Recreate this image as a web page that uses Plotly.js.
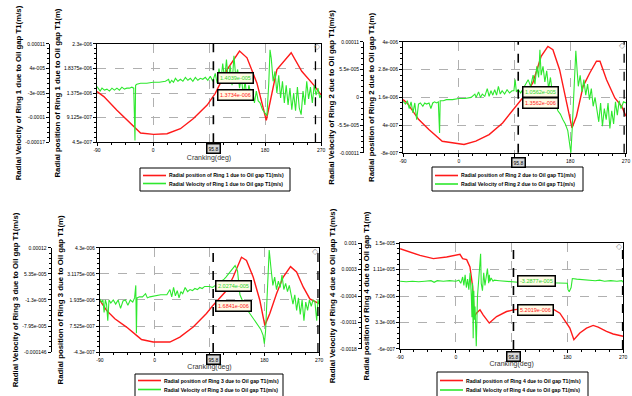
<!DOCTYPE html>
<html><head><meta charset="utf-8">
<script src="https://cdn.plot.ly/plotly-3.0.1.min.js"></script>
<style>html,body{margin:0;padding:0;background:#fff}#chart{width:632px;height:396px}</style>
</head><body><div id="chart"></div>
<script>
// ---------- Panel 1 (Ring 1) ----------
const xR1 = [-90,-79,-58,-28,-20,1,22.5,44,65,87,100,119,139,151,167,182,189,199,222,239,258,270];
const yR1 = [1.403e-6,1.308e-6,1.053e-6,7.03e-7,6.22e-7,5.96e-7,6.09e-7,7.03e-7,8.94e-7,1.149e-6,1.371e-6,1.817e-6,2.167e-6,2.039e-6,1.562e-6,8.63e-7,1.246e-6,1.817e-6,2.135e-6,1.786e-6,1.53e-6,1.34e-6];
const xG1 = [-90,-85,-82,-78,-74,-70,-66,-62,-58,-54,-50,-46,-42,-38,-34,-31,-30,-29,-28,-26,-20,-10,0,10,20,25,27,30,33,36,40,44,48,52,56,60,64,68,72,76,80,84,88,92,96,100,103,106,109,112,115,118,121,124,127,130,133,136,139,142,145,148,151,154,157,160,163,166,169,172,176,180,183,186,188,190,193,196,199,202,205,208,211,214,217,220,223,226,229,232,235,238,241,244,247,250,253,256,259,262,265,268,270];
const yG1 = [-1.12e-5,-2.44e-5,-1.6e-5,-2.16e-5,-1.88e-5,-2.44e-5,-1.6e-5,-2.16e-5,-1.6e-5,-2.16e-5,-1.32e-5,-1.88e-5,-1.6e-5,-1.6e-5,-1.32e-5,-1.6e-5,-8.6e-5,-1.65e-4,-0.76e-5,-0.48e-5,-0.2e-5,-0.2e-5,0.08e-5,0.08e-5,0.36e-5,0.92e-5,-0.2e-5,0.64e-5,0.08e-5,1.2e-5,0.36e-5,0.92e-5,0.36e-5,1.48e-5,0.64e-5,1.2e-5,0.36e-5,1.48e-5,0.64e-5,1.2e-5,0.92e-5,1.48e-5,0.64e-5,1.76e-5,0.36e-5,2.6e-5,-0.2e-5,4.0e-5,0.36e-5,5.4e-5,0.92e-5,6.52e-5,0.36e-5,4.84e-5,-0.76e-5,7.64e-5,1.48e-5,3.72e-5,-1.6e-5,1.48e-5,-3.56e-5,0.36e-5,-4.68e-5,-0.76e-5,-3.0e-5,-1.88e-5,-5.8e-5,-2.44e-5,-5.24e-5,-5.8e-5,-7.76e-5,-8.6e-5,-9.44e-5,-0.2e-5,9.32e-5,6.8e-5,0.36e-5,3.16e-5,-3.0e-5,2.04e-5,-4.4e-5,0.36e-5,-5.8e-5,-0.76e-5,-6.36e-5,-1.6e-5,-7.76e-5,-3.0e-5,-8.04e-5,-1.32e-5,-7.2e-5,-9.16e-5,-2.44e-5,-6.36e-5,0.36e-5,-4.68e-5,-1.32e-5,-5.8e-5,-0.76e-5,-3.56e-5,-1.6e-5,-4.4e-5,-3.56e-5];
const posTicks1 = [4.5e-7,9.125e-7,1.375e-6,1.8375e-6,2.3e-6];
const posLabels1 = ['4.5e-007','9.125e-007','1.375e-006','1.8375e-006','2.3e-006'];
const velTicks1 = [-1.7e-4,-1e-4,-3e-5,4e-5,1.1e-4];
const velLabels1 = ['-0.00017','-0.0001','-3e-005','4e-005','0.00011'];

// ---------- Panel 2 (Ring 2) ----------
const xR2 = [-90,-83.5,-64.6,-48.3,-26.7,-10.4,8.5,27.5,49,70.8,92.4,103,119.5,133,143.9,152,162.8,173.7,182.8,190,200.7,211.5,222.3,228,238.6,252,263,270];
const yR2 = [1.504e-6,1.36e-6,0.64e-6,0.208e-6,-0.296e-6,-0.368e-6,-0.44e-6,-0.296e-6,-0.008e-6,0.496e-6,1.216e-6,1.576e-6,2.224e-6,3.376e-6,3.808e-6,3.664e-6,2.8e-6,1.504e-6,0.28e-6,0.784e-6,2.08e-6,2.656e-6,3.165e-6,3.165e-6,2.368e-6,1.576e-6,1.216e-6,0.784e-6];
const xG2 = [-90,-86,-83,-80,-77,-74,-71,-68,-65,-62,-58,-55,-52,-48,-45,-42,-39,-36,-33,-31,-30,-25,-20,-10,0,10,20,26,28,32,35,38,42,46,49,52,55,58,61,64,67,70,74,78,82,86,89,91,93,96,100,104,108,112,116,120,123,126,129,131,133,136,139,142,145,148,152,156,160,164,168,172,176,179,181,183,186,189,191,193,196,199,202,205,208,211,214,217,220,223,226,229,232,235,238,241,244,247,250,253,256,259,262,266,270];
const yG2 = [-0.77e-5,-1.32e-5,-0.66e-5,-2.2e-5,-0.88e-5,-3.08e-5,-1.1e-5,-4.4e-5,-1.32e-5,-1.1e-5,-1.76e-5,-1.1e-5,-1.32e-5,-1.1e-5,-2.2e-5,-1.1e-5,-0.88e-5,-1.1e-5,-0.88e-5,-7.04e-5,-0.66e-5,-0.66e-5,-0.44e-5,-0.44e-5,-0.22e-5,-0.22e-5,0,0.66e-5,0,1.1e-5,0,0.66e-5,0.22e-5,1.76e-5,0.22e-5,1.32e-5,0.44e-5,1.54e-5,0.44e-5,2.2e-5,0.66e-5,1.32e-5,0.66e-5,1.54e-5,0.88e-5,1.32e-5,1.32e-5,3.52e-5,1.1e-5,1.54e-5,0.88e-5,1.76e-5,2.64e-5,3.52e-5,2.2e-5,4.4e-5,2.64e-5,6.16e-5,3.96e-5,9.46e-5,4.4e-5,6.16e-5,3.08e-5,5.28e-5,1.76e-5,3.96e-5,0,-0.88e-5,-2.64e-5,-3.3e-5,-4.4e-5,-5.28e-5,-6.6e-5,-8.8e-5,-1.1e-4,-6.6e-5,0,9.24e-5,5.5e-5,2.2e-5,4.4e-5,1.1e-5,3.52e-5,0.44e-5,2.64e-5,-0.44e-5,1.76e-5,-1.76e-5,0,-2.2e-5,-4.84e-5,-1.1e-5,-5.72e-5,-2.2e-5,-4.4e-5,-1.1e-5,-6.16e-5,-2.64e-5,-5.28e-5,-0.88e-5,-3.52e-5,-0.66e-5,-2.2e-5,-0.88e-5,-1.1e-5];
const posTicks2 = [-8e-7,4e-7,1.6e-6,2.8e-6,4e-6];
const posLabels2 = ['-8e-007','4e-007','1.6e-006','2.8e-006','4e-006'];
const velTicks2 = [-1.1e-4,-5.5e-5,0,5.5e-5,1.1e-4];
const velLabels2 = ['-0.00011','-5.5e-005','0','5.5e-005','0.00011'];

// ---------- Panel 3 (Ring 3) ----------
const xR3 = [-90,-79,-65.4,-46.2,-29.8,-21.6,-2.5,24.9,41.3,63.2,85,96,117.9,128.8,142.5,150.7,161.7,172.6,180.8,189,200,211,223,232.9,243.8,254.7,270];
const yR3 = [1.921e-6,1.462e-6,1.084e-6,0.705e-6,0.327e-6,0.138e-6,0.024e-6,0.024e-6,0.251e-6,0.705e-6,1.32e-6,1.699e-6,2.361e-6,2.976e-6,3.874e-6,3.732e-6,2.976e-6,1.921e-6,0.781e-6,1.32e-6,2.219e-6,2.976e-6,3.449e-6,3.212e-6,2.526e-6,1.982e-6,1.769e-6];
const xG3 = [-90,-87,-85,-83,-81,-79,-77,-75,-72,-68,-64,-60,-56,-52,-48,-44,-40,-36,-33,-31,-30,-29,-25,-20,-15,-12,-8,0,10,20,25,28,31,34,37,40,43,46,50,54,58,62,66,70,74,78,82,86,90,95,100,105,110,114,117,120,123,125,128,132,136,140,145,150,155,160,165,170,174,178,180,182,185,188,191,194,197,200,203,206,209,212,215,218,221,224,227,230,233,236,239,242,245,248,251,254,257,260,263,266,268,270];
const yG3 = [-1.03e-5,-1.83e-5,-1.3e-5,-4.49e-5,-1.3e-5,-2.36e-5,-6.62e-5,-1.3e-5,-2.1e-5,-1.3e-5,-2.36e-5,-1.3e-5,-3.43e-5,-1.57e-5,-1.3e-5,-2.63e-5,-1.3e-5,-1.83e-5,-0.77e-5,2.42e-5,-9.81e-5,-0.77e-5,-0.5e-5,-0.5e-5,0.3e-5,-0.77e-5,-0.5e-5,-0.24e-5,0.03e-5,0.03e-5,1.36e-5,-0.5e-5,1.89e-5,-0.24e-5,1.09e-5,-0.77e-5,0.83e-5,0.3e-5,1.89e-5,0.83e-5,1.36e-5,1.09e-5,1.63e-5,1.36e-5,1.89e-5,1.63e-5,2.16e-5,2.16e-5,2.16e-5,1.89e-5,2.42e-5,2.96e-5,3.49e-5,4.02e-5,4.55e-5,5.08e-5,5.62e-5,6.15e-5,6.68e-5,7.48e-5,6.15e-5,0.03e-5,-1.83e-5,-3.43e-5,-4.49e-5,-5.56e-5,-6.62e-5,-7.68e-5,-8.75e-5,-10.34e-5,-12.47e-5,-9.28e-5,0.03e-5,11.47e-5,6.68e-5,2.42e-5,4.55e-5,1.36e-5,3.49e-5,1.89e-5,5.08e-5,1.36e-5,2.96e-5,0.83e-5,2.42e-5,-0.24e-5,-2.36e-5,0.03e-5,-3.96e-5,-0.77e-5,-5.02e-5,-1.3e-5,-6.62e-5,-1.83e-5,-3.96e-5,-1.3e-5,-2.9e-5,-1.3e-5,-1.83e-5,-6.62e-5,-1.3e-5,-2.36e-5];
const posTicks3 = [-4.3e-7,7.525e-7,1.935e-6,3.1175e-6,4.3e-6];
const posLabels3 = ['-4.3e-007','7.525e-007','1.935e-006','3.1175e-006','4.3e-006'];
const velTicks3 = [-1.46e-4,-7.95e-5,-1.3e-5,5.35e-5,1.2e-4];
const velLabels3 = ['-0.000146','-7.95e-005','-1.3e-005','5.35e-005','0.00012'];

// ---------- Panel 4 (Ring 4) ----------
const xR4 = [-90,-73.9,-57.8,-36.3,-14.8,6.7,11,17.5,22.8,27.1,29.8,33.6,39,44.3,54,65.8,81.9,92.7,114.2,151.8,167.9,184,190.5,200.1,210.9,221.6,229.7,243.1,253.9,270];
const yR4 = [14.17e-6,13.69e-6,13.19e-6,12.71e-6,12.96e-6,13.35e-6,12.71e-6,12.57e-6,11.49e-6,8.6e-6,4.17e-6,4.7e-6,5.16e-6,4.39e-6,3.21e-6,4.17e-6,4.91e-6,5.16e-6,5.39e-6,5.55e-6,4.67e-6,2.47e-6,0.765e-6,1.74e-6,2.47e-6,2.86e-6,2.61e-6,1.99e-6,1.6e-6,1.26e-6];
const xG4 = [-90,-80,-70,-60,-50,-40,-35,-30,-20,-10,0,5,8,11,13,15,17,19,21,23,25,26,27,28,29,30,31,33,35,37,40,41,43,45,47,49,51,53,54,55,57,60,62,70,80,90,100,120,140,160,175,180,181,183,186,188,195,205,215,225,232,240,250,260,268,270];
const yG4 = [-0.08e-4,-0.22e-4,-0.08e-4,-0.22e-4,-0.08e-4,0.06e-4,-0.36e-4,0.06e-4,-0.08e-4,0.06e-4,-0.08e-4,0.2e-4,-0.64e-4,1.04e-4,-1.2e-4,1.6e-4,-1.76e-4,0.48e-4,-2.32e-4,2.16e-4,-4e-4,-9.6e-4,-0.64e-4,-15.2e-4,-2.6e-4,-10.3e-4,-6.8e-4,-17.3e-4,-4e-4,1.6e-4,7.2e-4,-0.64e-4,-2.6e-4,2.16e-4,-1.2e-4,1.04e-4,3.28e-4,-0.64e-4,1.6e-4,-0.08e-4,0.76e-4,-0.08e-4,0.2e-4,0.06e-4,-0.08e-4,-0.22e-4,-0.36e-4,-0.36e-4,-0.5e-4,-0.64e-4,-0.64e-4,-0.64e-4,-2.32e-4,-2.88e-4,-1.76e-4,0.62e-4,0.48e-4,0.34e-4,0.2e-4,0.06e-4,0.2e-4,-0.08e-4,0.06e-4,-0.08e-4,0.06e-4,-0.36e-4];
const posTicks4 = [-6e-7,3.3e-6,7.2e-6,1.11e-5,1.5e-5];
const posLabels4 = ['-6e-007','3.3e-006','7.2e-006','1.11e-005','1.5e-005'];
const velTicks4 = [-1.8e-3,-1.1e-3,-4e-4,3e-4,1e-3];
const velLabels4 = ['-0.0018','-0.0011','-0.0004','0.0003','0.001'];

// shared x ticks and cursor readouts
const xTicks = [-90,0,90,180,270];
const xLabels = ['-90','0','','180','270'];
const cursorDeg = [97,96,96,93];
const cursorLabel = ['95.8','95.8','95.8','95.8'];
const rightDeg = [261,267,268,269];
const greenVal = ['1.4039e-005','1.0562e-005','2.0274e-005','-3.2877e-005'];
const redVal = ['1.3734e-006','1.3562e-006','1.6841e-006','5.2019e-006'];

const FONT = 'Liberation Sans, Arial, sans-serif';
const RED = '#ff1a1a', GREEN = '#2ee82e';
const W = 632, H = 396;

const panels = [
  {xR:xR1,yR:yR1,xG:xG1,yG:yG1,pt:posTicks1,pl:posLabels1,vt:velTicks1,vl:velLabels1,
   xd:[0.1535,0.508], yd:[0.641,0.889], outer:0.0775, xtitle:true,
   leg:{l:140,r:290,t:168,b:191,r1:175.5,r2:183.5}, gbox:[0.3434,0.804], rbox:[0.3434,0.760], cy:0.624},
  {xR:xR2,yR:yR2,xG:xG2,yG:yG2,pt:posTicks2,pl:posLabels2,vt:velTicks2,vl:velLabels2,
   xd:[0.6377,0.9905], yd:[0.614,0.894], outer:0.5744, xtitle:false,
   leg:{l:432,r:583,t:167,b:191,r1:175.5,r2:184}, gbox:[0.826,0.768], rbox:[0.826,0.741], cy:0.590},
  {xR:xR3,yR:yR3,xG:xG3,yG:yG3,pt:posTicks3,pl:posLabels3,vt:velTicks3,vl:velLabels3,
   xd:[0.158,0.505], yd:[0.111,0.374], outer:0.080, xtitle:true,
   leg:{l:135,r:283,t:374,b:399,r1:380.5,r2:389.5}, gbox:[0.340,0.278], rbox:[0.340,0.227], cy:0.091},
  {xR:xR4,yR:yR4,xG:xG4,yG:yG4,pt:posTicks4,pl:posLabels4,vt:velTicks4,vl:velLabels4,
   xd:[0.633,0.986], yd:[0.119,0.386], outer:0.571, xtitle:true,
   leg:{l:437,r:588,t:372,b:399,r1:380.5,r2:390}, gbox:[0.818,0.290], rbox:[0.818,0.217], cy:0.0985}
];

const traces = [];
const layout = {
  width:W, height:H, margin:{l:0,r:0,t:0,b:0}, showlegend:false,
  paper_bgcolor:'#fff', plot_bgcolor:'#fff',
  font:{family:FONT, color:'#000', size:5},
  annotations:[], shapes:[]
};

panels.forEach((p, k) => {
  const i = k + 1;
  const xa = i === 1 ? 'x' : 'x' + i;
  const yIn = 'y' + (i === 1 ? '' : (2*i - 1));
  const yOut = 'y' + (2*i);
  const nameR = 'Radial position of Ring ' + i + ' due to Oil gap T1(m/s)';
  const nameG = 'Radial Velocity of Ring ' + i + ' due to Oil gap T1(m/s)';
  traces.push({x:p.xR, y:p.yR, xaxis:xa, yaxis:yIn, type:'scatter', mode:'lines',
    name:nameR, line:{color:RED, width:1.4}});
  traces.push({x:p.xG, y:p.yG, xaxis:xa, yaxis:yOut, type:'scatter', mode:'lines',
    name:nameG, line:{color:GREEN, width:1.1}});

  const xKey = i === 1 ? 'xaxis' : 'xaxis' + i;
  const yInKey = i === 1 ? 'yaxis' : 'yaxis' + (2*i - 1);
  const yOutKey = 'yaxis' + (2*i);
  layout[xKey] = {
    domain:p.xd, anchor:yIn, range:[-90,270], tickmode:'array', tickvals:xTicks, ticktext:xLabels,
    showline:true, linecolor:'#000', linewidth:1, mirror:true, ticks:'outside', ticklen:3, tickcolor:'#000',
    minor:{ticks:'outside', ticklen:2, tick0:-90, dtick:22.5, tickcolor:'#000'},
    showgrid:true, gridcolor:'#b0b0b0', griddash:'dash', gridwidth:1, zeroline:false,
    tickfont:{size:5, color:'#000'},
    title: p.xtitle ? {text:'Cranking(deg)', font:{size:7, color:'#333'}, standoff:2} : {text:''}
  };
  const step = (p.pt[4] - p.pt[0]) / 4;
  layout[yInKey] = {
    domain:p.yd, anchor:xa, range:[p.pt[0], p.pt[4]], tickmode:'array', tickvals:p.pt, ticktext:p.pl,
    showline:true, linecolor:'#000', linewidth:1, mirror:true, ticks:'outside', ticklen:3, tickcolor:'#000',
    minor:{ticks:'outside', ticklen:2, tick0:p.pt[0], dtick:step/5, tickcolor:'#000'},
    showgrid:true, gridcolor:'#b0b0b0', griddash:'dash', gridwidth:1, zeroline:false,
    tickfont:{size:5, color:'#000'},
    title:{text:'Radial position of Ring ' + i + ' due to Oil gap T1(m)', font:{size:7.8, color:'#000', weight:'bold'}}
  };
  const vstep = (p.vt[4] - p.vt[0]) / 4;
  layout[yOutKey] = {
    overlaying:yIn, anchor:'free', position:p.outer, side:'left',
    range:[p.vt[0], p.vt[4]], tickmode:'array', tickvals:p.vt, ticktext:p.vl,
    showline:true, linecolor:'#000', linewidth:1, ticks:'outside', ticklen:3, tickcolor:'#000',
    minor:{ticks:'outside', ticklen:2, tick0:p.vt[0], dtick:vstep/5, tickcolor:'#000'},
    showgrid:false, zeroline:false, tickfont:{size:5, color:'#000'},
    title:{text:'Radial Velocity of Ring ' + i + ' due to Oil gap T1(m/s)', font:{size:7.8, color:'#000', weight:'bold'}}
  };

  // legend box drawn in paper space (compact, as in the original)
  const L = p.leg;
  const px = v => v / W, py = v => 1 - v / H;
  layout.shapes.push({type:'rect', xref:'paper', yref:'paper', x0:px(L.l), x1:px(L.r), y0:py(L.b), y1:py(L.t),
    line:{color:'#000', width:1}, fillcolor:'#fff'});
  layout.shapes.push({type:'line', xref:'paper', yref:'paper', x0:px(L.l+3), x1:px(L.l+26), y0:py(L.r1), y1:py(L.r1),
    line:{color:RED, width:1.6}});
  layout.shapes.push({type:'line', xref:'paper', yref:'paper', x0:px(L.l+3), x1:px(L.l+26), y0:py(L.r2), y1:py(L.r2),
    line:{color:GREEN, width:1.6}});
  layout.annotations.push({xref:'paper', yref:'paper', x:px(L.l+27), y:py(L.r1), xanchor:'left', yanchor:'middle',
    text:nameR, showarrow:false, font:{size:5.1, color:'#000', weight:'bold'}});
  layout.annotations.push({xref:'paper', yref:'paper', x:px(L.l+27), y:py(L.r2), xanchor:'left', yanchor:'middle',
    text:nameG, showarrow:false, font:{size:5.1, color:'#000', weight:'bold'}});

  // cursor lines
  layout.shapes.push({type:'line', xref:xa, yref:yIn + ' domain', x0:cursorDeg[k], x1:cursorDeg[k], y0:0, y1:1,
    line:{color:'#000', width:1.6, dash:'dash'}});
  layout.shapes.push({type:'line', xref:xa, yref:yIn + ' domain', x0:rightDeg[k], x1:rightDeg[k], y0:0, y1:1,
    line:{color:'#000', width:1.3, dash:'dash'}});
  // value boxes
  layout.annotations.push({xref:'paper', yref:'paper', x:p.gbox[0], y:p.gbox[1], xanchor:'left', yanchor:'middle',
    text:greenVal[k], showarrow:false, font:{size:5.5, color:'#2bd62b'}, bgcolor:'#fffbe6',
    bordercolor:'#000', borderwidth:1.5, borderpad:1.5});
  layout.annotations.push({xref:'paper', yref:'paper', x:p.rbox[0], y:p.rbox[1], xanchor:'left', yanchor:'middle',
    text:redVal[k], showarrow:false, font:{size:5.5, color:'#ff2020'}, bgcolor:'#fffbe6',
    bordercolor:'#000', borderwidth:1.5, borderpad:1.5});
  // cursor x label
  layout.annotations.push({xref:xa, yref:'paper', x:cursorDeg[k], y:p.cy, xanchor:'center', yanchor:'middle',
    text:cursorLabel[k], showarrow:false, font:{size:5, color:'#000'}, bgcolor:'#d8d8d8',
    bordercolor:'#000', borderwidth:1.5, borderpad:1});
  // corner icon
  layout.annotations.push({xref:xa + ' domain', yref:yIn + ' domain', x:0.985, y:0.97, xanchor:'center', yanchor:'middle',
    text:'◇', showarrow:false, font:{size:8, color:'#999'}});
});

Plotly.newPlot('chart', traces, layout, {displayModeBar:false, staticPlot:true});
</script></body></html>
